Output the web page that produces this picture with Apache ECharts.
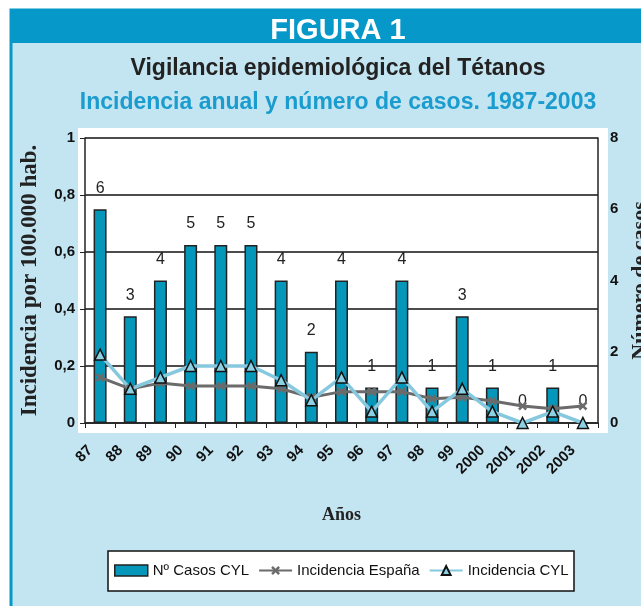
<!DOCTYPE html>
<html><head><meta charset="utf-8">
<script src="https://cdn.jsdelivr.net/npm/echarts@6/dist/echarts.min.js"></script>
<style>html,body{margin:0;padding:0;background:#fff}#c{width:641px;height:606px}</style>
</head><body><div id="c"></div>
<script>
const years = ['87','88','89','90','91','92','93','94','95','96','97','98','99','2000','2001','2002','2003'];
const casosCYL = [6,3,4,5,5,5,4,2,4,1,4,1,3,1,0,1,0];
const incEspana = [0.16,0.12,0.14,0.13,0.13,0.13,0.12,0.09,0.11,0.11,0.11,0.085,0.09,0.077,0.06,0.05,0.06];
const incCYL = [0.24,0.12,0.16,0.2,0.2,0.2,0.15,0.08,0.16,0.04,0.16,0.04,0.12,0.04,0,0.04,0];
const leftTicks = ['0','0,2','0,4','0,6','0,8','1'];

const SANS = '"Liberation Sans","Arial",sans-serif';
const SERIF = '"Liberation Serif","DejaVu Serif",serif';
const HEADER = '#0598c8', PANEL = '#c3e4f1', BAR = '#0497b9';
const starPath = 'path://M0,2 L2,0 L5,3 L8,0 L10,2 L7,5 L10,8 L8,10 L5,7 L2,10 L0,8 L3,5 Z';

const chart = echarts.init(document.getElementById('c'));
chart.setOption({
  animation: false,
  backgroundColor: '#fff',
  graphic: [
    {type:'rect', z:-10, shape:{x:11,y:10,width:640,height:606}, style:{fill:PANEL, stroke:HEADER, lineWidth:3}},
    {type:'rect', z:-9, shape:{x:10,y:10,width:631,height:33}, style:{fill:HEADER}},
    {type:'rect', z:-9, shape:{x:78,y:128,width:530,height:305}, style:{fill:'#fff'}},
    {type:'rect', z:-9, shape:{x:108,y:551,width:466,height:40}, style:{fill:'#fff', stroke:'#111', lineWidth:1.5}}
  ],
  title: [
    {text:'FIGURA 1', left:333, top:11, textAlign:'center',
     textStyle:{color:'#fff', fontSize:29, fontWeight:'bold', fontFamily:SANS}},
    {text:'Vigilancia epidemiológica del Tétanos', left:333, top:52, textAlign:'center',
     textStyle:{color:'#222', fontSize:23, fontWeight:'bold', fontFamily:SANS}},
    {text:'Incidencia anual y número de casos. 1987-2003', left:333, top:86, textAlign:'center',
     textStyle:{color:'#1a9ccf', fontSize:23, fontWeight:'bold', fontFamily:SANS}}
  ],
  legend: {
    left: 114, top: 563, itemGap: 9, padding: 0,
    textStyle: {fontFamily: SANS, fontSize: 15, color:'#111'},
    data: [
      {name:'Nº Casos CYL', icon:'rect', itemStyle:{color:BAR, borderColor:'#222', borderWidth:1.5}},
      {name:'Incidencia España'},
      {name:'Incidencia CYL'}
    ],
    itemWidth: 33, itemHeight: 11
  },
  grid: {left:85, right:43, top:138, bottom:183, containLabel:false, outerBoundsMode:'none'},
  xAxis: {
    type:'category', data: years, boundaryGap: true,
    name:'Años', nameLocation:'middle', nameGap:83,
    nameTextStyle:{fontFamily:SERIF, fontWeight:'bold', fontSize:18, color:'#222'},
    axisLine:{lineStyle:{color:'#222', width:1.5}},
    axisTick:{show:true, alignWithLabel:false, length:5, lineStyle:{color:'#222'}},
    axisLabel:{rotate:45, interval:0, fontWeight:'bold', fontSize:15, color:'#111', fontFamily:SANS,
      margin:15, padding:[0,14,0,0]}
  },
  yAxis: [
    {type:'value', min:0, max:1, interval:0.2,
     name:'Incidencia por 100.000 hab.', nameLocation:'middle', nameGap:43,
     nameTextStyle:{fontFamily:SERIF, fontWeight:'bold', fontSize:23, color:'#222'},
     axisLine:{show:true, lineStyle:{color:'#222', width:1.5}},
     axisTick:{show:true, length:5, lineStyle:{color:'#222'}},
     axisLabel:{fontWeight:'bold', fontSize:15, color:'#111', fontFamily:SANS, margin:10,
       formatter: (v) => leftTicks[Math.round(v*5)]},
     splitLine:{lineStyle:{color:'#111', width:1.5}}
    },
    {type:'value', min:0, max:8, interval:2,
     name:'Número de casos', nameLocation:'middle', nameGap:29, nameRotate:90,
     nameTextStyle:{fontFamily:SERIF, fontWeight:'bold', fontSize:22, color:'#222'},
     axisLine:{show:true, lineStyle:{color:'#222', width:1.5}},
     axisTick:{show:false},
     axisLabel:{fontWeight:'bold', fontSize:15, color:'#111', fontFamily:SANS, margin:12},
     splitLine:{show:false}
    }
  ],
  series: [
    {name:'Nº Casos CYL', type:'bar', yAxisIndex:1, data: casosCYL, barWidth:13,
     itemStyle:{color:BAR, borderColor:'#222', borderWidth:1.5},
     label:{show:true, position:'top', distance:13, color:'#222', fontSize:16, fontFamily:SANS}},
    {name:'Incidencia España', type:'line', yAxisIndex:0, data: incEspana,
     symbol: starPath, symbolSize:9, showAllSymbol:true,
     lineStyle:{color:'#6b6b6b', width:3}, itemStyle:{color:'#6b6b6b'}},
    {name:'Incidencia CYL', type:'line', yAxisIndex:0, data: incCYL,
     symbol:'triangle', symbolSize:11, showAllSymbol:true,
     lineStyle:{color:'#86c8de', width:3.5}, itemStyle:{color:'#8cd0e4', borderColor:'#111', borderWidth:1.5}}
  ]
});
</script></body></html>
